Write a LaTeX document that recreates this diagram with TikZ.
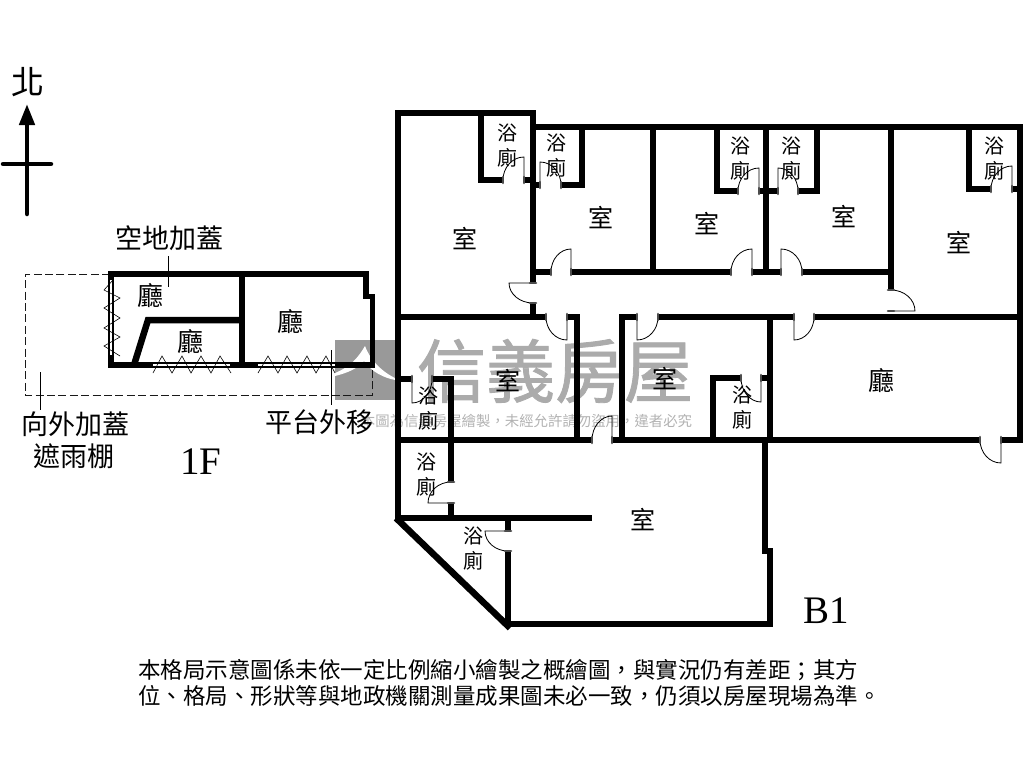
\documentclass[tikz,border=0pt]{standalone}
\usepackage{fontspec}
\usepackage{tikz}
\usetikzlibrary{
    calc,          % Door leaf coordinates
    arrows.meta    % North arrow tip
}
\newfontfamily\cjk{Noto Sans CJK TC}
\newfontfamily\brandfont[FakeBold=1.2]{Noto Sans CJK TC}
\setmainfont{Liberation Serif}
\tikzset{wall/.style={line width=6.5pt, line join=miter}}
\tikzset{thinwall/.style={line width=5pt, line join=miter}}
\tikzset{pane/.style={line width=2.6pt, white}}
\tikzset{thinline/.style={line width=0.8pt}}
\tikzset{leafline/.style={line width=0.8pt}}
\tikzset{jamb/.style={line width=2.6pt, line cap=round, black!70}}
\tikzset{zigzag/.style={line width=0.6pt, line join=miter}}
\tikzset{hidden/.style={line width=1pt, black!90, dash pattern=on 8pt off 3.4pt}}
\tikzset{roomname/.style={inner sep=0pt, font=\cjk\fontsize{25}{25}\selectfont}}
\tikzset{hallname/.style={inner sep=0pt, font=\cjk\fontsize{26}{26}\selectfont}}
\tikzset{bathname/.style={inner sep=0pt, align=center, font=\cjk\fontsize{20}{25}\selectfont}}
\tikzset{callout/.style={inner sep=0pt, font=\cjk\fontsize{27}{32}\selectfont}}
\tikzset{floorname/.style={inner sep=0pt, font=\fontsize{39}{39}\selectfont}}
\tikzset{notice/.style={inner sep=0pt, anchor=west, font=\cjk\fontsize{22.5}{22.5}\selectfont}}
% hinge, leaf tip, free jamb
\newcommand{\swingdoor}[3]{%
    \draw[leafline] (#1) -- (#2)
        .. controls ($(#2)+0.55*(#3)-0.55*(#1)$) and ($(#3)+0.55*(#2)-0.55*(#1)$) .. (#3);
    \draw[jamb] ($(#1)!3pt!90:(#3)$) -- ($(#1)!-3pt!90:(#3)$);
    \draw[jamb] ($(#3)!3pt!90:(#1)$) -- ($(#3)!-3pt!90:(#1)$);
}

\begin{document}
\begin{tikzpicture}[x=1pt, y=-1pt]
    \useasboundingbox (0,0) rectangle (1024,768);

    % watermark
    \fill[black!40] (335,340) rectangle (397,400);
    \fill[white] (335,373) .. controls (350,367) and (358,358) .. (365,346)
        .. controls (371,362) and (385,375) .. (402,381)
        .. controls (383,379) and (371,371) .. (364,361)
        .. controls (357,369) and (347,373) .. (335,376) -- cycle;
    \node[inner sep=0pt, text=black!33, font=\brandfont\fontsize{69}{69}\selectfont] (brand) at (555,371) {信義房屋};
    \node[inner sep=0pt, text=black!30, font=\cjk\fontsize{14.4}{14.4}\selectfont] (brandnote) at (526.5,421) {本圖為信義房屋繪製，未經允許請勿盜用，違者必究};

    % north arrow
    \draw[line width=4.5pt, line cap=round, -{Triangle[length=21pt, width=15pt]}] (27,214) -- (27,104);
    \draw[line width=4.5pt, line cap=round] (3,164) -- (51,164);
    \node[inner sep=0pt, font=\cjk\fontsize{33}{33}\selectfont] (north) at (28,82) {北};

    % 1F
    \draw[hidden] (110,274) -- (25,274) -- (25,395) -- (372,395) -- (372,365);
    \draw[wall] (111,274) -- (111,365) -- (134,365);
    \draw[wall] (108,274) -- (366,274) -- (366,298);
    \draw[wall] (134,365) -- (148,320) -- (242,320);
    \draw[wall] (242,274) -- (242,365);
    \draw[thinwall] (363,296) -- (372,296) -- (372,368);
    \draw[wall] (108,365) -- (375,365);
    \draw[pane] (111,280) -- (111,355);
    \draw[pane] (153,365) -- (230,365);
    \draw[pane] (258,365) -- (335,365);
    \draw[zigzag] (113,280) -- (104,290) -- (120,298) -- (104,308) -- (120,318) -- (104,328) -- (120,337) -- (104,346) -- (120,356);
    \draw[zigzag] (153,373) -- (162,356) -- (172,373) -- (182,356) -- (191,373) -- (201,356) -- (211,373) -- (220,356) -- (231,373);
    \draw[zigzag] (258,373) -- (268,356) -- (278,373) -- (287,356) -- (297,373) -- (307,356) -- (316,373) -- (326,356) -- (335,373);
    \draw[thinline] (168,256) -- (168,287);
    \draw[thinline] (40,372) -- (40,410);
    \draw[thinline] (331,350) -- (331,405);
    \node[callout] (covered) at (169,238) {空地加蓋};
    \node[callout] (awningtop) at (75,424) {向外加蓋};
    \node[callout] (awning) at (74,456) {遮雨棚};
    \node[callout] (platform) at (319,422) {平台外移};
    \node[hallname] (halla) at (150,296) {廳};
    \node[hallname] (hallb) at (190,342) {廳};
    \node[hallname] (hallc) at (290,322) {廳};
    \node[floorname] (floorone) at (201,462) {1F};

    % B1 outer walls and long runs
    \draw[wall] (398,521) -- (398,113) -- (536,113);
    \draw[wall] (533,113) -- (533,283);
    \draw[wall] (533,303) -- (533,317);
    \draw[wall] (533,127) -- (1023,127);
    \draw[wall] (1020,127) -- (1020,443);
    \draw[wall] (398,317) -- (546,317);
    \draw[wall] (567,317) -- (577,317) -- (577,440);
    \draw[wall] (622,440) -- (622,317) -- (637,317);
    \draw[wall] (658,317) -- (794,317);
    \draw[wall] (814,317) -- (1020,317);
    \draw[wall] (533,272) -- (551,272);
    \draw[wall] (571,272) -- (731,272);
    \draw[wall] (752,272) -- (781,272);
    \draw[wall] (802,272) -- (891,272);
    \draw[wall] (398,440) -- (592,440);
    \draw[wall] (612,440) -- (980,440);
    \draw[wall] (1001,440) -- (1020,440);
    \draw[wall] (653,127) -- (653,272);
    \draw[wall] (766,127) -- (766,272);
    \draw[wall] (891,127) -- (891,290);
    \draw[wall] (770,317) -- (770,440);
    \draw[wall] (398,518) -- (592,518);
    \draw[wall] (396,518) -- (510,628);
    \draw[wall] (765,440) -- (765,551) -- (770,551) -- (770,624) -- (508,624) -- (508,551);
    \draw[wall] (508,518) -- (508,531);

    % B1 bathroom walls
    \draw[wall] (503,180) -- (481,180) -- (481,113);
    \draw[wall] (524,180) -- (533,180);
    \draw[wall] (533,185) -- (540,185);
    \draw[wall] (561,185) -- (582,185) -- (582,127);
    \draw[wall] (717,127) -- (717,191) -- (738,191);
    \draw[wall] (759,191) -- (778,191);
    \draw[wall] (798,191) -- (817,191) -- (817,127);
    \draw[wall] (969,127) -- (969,189) -- (991,189);
    \draw[wall] (1012,189) -- (1020,189);
    \draw[wall] (398,379) -- (412,379);
    \draw[wall] (432,379) -- (451,379) -- (451,482);
    \draw[wall] (451,503) -- (451,518);
    \draw[wall] (713,440) -- (713,378) -- (741,378);
    \draw[wall] (761,378) -- (770,378);

    % B1 doors
    \swingdoor{524,180}{524,157}{503,180}
    \swingdoor{540,185}{540,162}{561,185}
    \swingdoor{759,191}{759,168}{738,191}
    \swingdoor{778,191}{778,168}{798,191}
    \swingdoor{1012,189}{1012,166}{991,189}
    \swingdoor{571,272}{571,249}{551,272}
    \swingdoor{752,272}{752,249}{731,272}
    \swingdoor{781,272}{781,249}{802,272}
    \swingdoor{533,283}{509,283}{533,303}
    \swingdoor{891,311}{915,311}{891,290}
    \swingdoor{567,317}{567,340}{546,317}
    \swingdoor{637,317}{637,340}{658,317}
    \swingdoor{794,317}{794,340}{814,317}
    \swingdoor{412,379}{412,403}{432,379}
    \swingdoor{761,378}{761,402}{741,378}
    \swingdoor{612,440}{612,416}{592,440}
    \swingdoor{1001,440}{1001,463}{980,440}
    \swingdoor{451,503}{428,503}{451,482}
    \swingdoor{508,531}{485,531}{508,551}

    % B1 labels
    \node[roomname] (rooma) at (465,239) {室};
    \node[roomname] (roomb) at (601,218) {室};
    \node[roomname] (roomc) at (707,224) {室};
    \node[roomname] (roomd) at (844,217) {室};
    \node[roomname] (roome) at (959,243) {室};
    \node[roomname] (roomf) at (508,381) {室};
    \node[roomname] (roomg) at (665,379) {室};
    \node[roomname] (roomh) at (643,520) {室};
    \node[hallname] (halld) at (881,381) {廳};
    \node[bathname] (batha) at (507,146) {浴\\廁};
    \node[bathname] (bathb) at (556,156) {浴\\廁};
    \node[bathname] (bathc) at (740,159) {浴\\廁};
    \node[bathname] (bathd) at (791,159) {浴\\廁};
    \node[bathname] (bathe) at (994,159) {浴\\廁};
    \node[bathname] (bathf) at (428,409) {浴\\廁};
    \node[bathname] (bathg) at (426,475) {浴\\廁};
    \node[bathname] (bathh) at (473,549) {浴\\廁};
    \node[bathname] (bathi) at (742,408) {浴\\廁};
    \node[floorname] (floorbase) at (826,611) {B1};

    % notice
    \node[notice] (noticea) at (138,670) {本格局示意圖係未依一定比例縮小繪製之概繪圖，與實況仍有差距；其方};
    \node[notice] (noticeb) at (138,696) {位、格局、形狀等與地政機關測量成果圖未必一致，仍須以房屋現場為準。};
\end{tikzpicture}
\end{document}
